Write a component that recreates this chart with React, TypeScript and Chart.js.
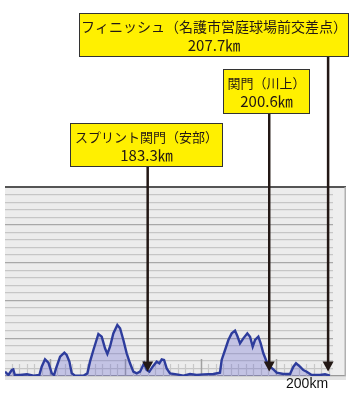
import React, { useEffect, useRef } from 'react';
import { Chart, registerables } from 'chart.js';

Chart.register(...registerables);

// Course profile: distance (km) and elevation (m)
const distanceKm = [
  164.1, 164.55, 165.0, 165.2, 165.4, 166.1, 167.0, 167.9, 168.65, 168.96,
  169.4, 169.85, 170.3, 170.6, 170.86, 171.4, 171.96, 172.27, 172.63, 172.94,
  173.38, 174.48, 175.01, 175.36, 175.81, 176.47, 176.91, 177.35, 177.66, 178.01,
  178.45, 178.98, 179.34, 179.78, 180.22, 180.66, 181.1, 181.55, 181.99, 182.52,
  182.87, 183.22, 183.66, 184.19, 184.55, 184.86, 185.17, 185.52, 185.96, 186.84,
  187.73, 188.61, 189.49, 190.38, 191.7, 192.58, 192.8, 193.25, 193.69, 194.13,
  194.57, 194.88, 195.23, 195.67, 196.2, 196.56, 196.91, 197.22, 197.66, 197.97,
  198.32, 198.76, 199.21, 199.65, 200.09, 200.97, 201.85, 202.3, 202.65, 203.18,
  203.62, 204.06, 204.72, 205.83, 206.49, 207.15,
];
const elevationM = [
  5.7, 1.3, 7.9, 8.8, 1.3, 1.3, 2.2, 0.4, 1.3, 12.3,
  22.0, 17.6, 3.5, 1.3, 10.1, 25.6, 30.9, 27.8, 19.0, 3.5,
  0.4, 0.4, 3.5, 19.0, 34.4, 55.6, 52.0, 36.6, 29.1, 38.8,
  56.4, 67.5, 63.1, 47.6, 30.0, 16.8, 5.7, 3.5, 5.7, 16.8,
  7.9, 5.7, 12.3, 19.0, 16.8, 22.0, 21.2, 10.1, 3.5, 2.2,
  0.4, 2.6, 1.3, 2.2, 2.6, 4.4, 21.2, 34.4, 47.6, 56.4,
  60.0, 52.9, 43.2, 49.8, 56.4, 52.0, 38.8, 47.6, 52.0, 43.2,
  30.0, 19.0, 12.3, 8.8, 4.4, 2.6, 2.6, 12.3, 16.8, 12.3,
  7.9, 5.7, 1.3, 1.3, 2.2, 0.4,
];

// Markers (arrow positions, labels as printed)
const markerKm = [183.0, 199.1, 206.9];
const markerTitles = ['スプリント関門（安部）', '関門（川上）', 'フィニッシュ（名護市営庭球場前交差点）'];
const markerDistances = ['183.3㎞', '200.6㎞', '207.7㎞'];

// Axis
const xMin = 164.1;
const xMax = 209.27;
const gridEndKm = 207.55;
const yMin = 0;
const yMax = 250;
const yStep = 10;
const yMajorStep = 50;
const axisLabelKm = 200;
const axisLabelText = '200km';

const CJK = '"Noto Sans CJK JP", "Noto Sans", sans-serif';
const INK = '#231815';

export default function App() {
  const ref = useRef<HTMLCanvasElement>(null);

  useEffect(() => {
    if (!ref.current) return;
    const boxes = [
      { x: 70, y: 123, w: 153, h: 44, size: 13 },
      { x: 223, y: 69, w: 87, h: 45, size: 13 },
      { x: 79, y: 13, w: 270, h: 44, size: 14 },
    ];

    const decor = {
      id: 'profileDecor',
      beforeDraw(chart: any) {
        const { ctx, chartArea: a } = chart;
        ctx.save();
        ctx.fillStyle = '#ececec';
        ctx.fillRect(a.left, a.top, a.right - a.left, a.bottom - a.top);
        ctx.fillStyle = '#e4e4e4';
        ctx.fillRect(a.left, a.bottom, a.right - a.left, 4);
        ctx.restore();
      },
      beforeDatasetsDraw(chart: any) {
        const { ctx, chartArea: a } = chart;
        const xs = chart.scales.x;
        ctx.save();
        // strip at right without grid
        const gx = xs.getPixelForValue(gridEndKm);
        ctx.fillStyle = '#eeeeee';
        ctx.fillRect(gx, a.top + 2, a.right - gx, a.bottom - a.top - 3);
        // right border
        ctx.strokeStyle = '#b0b0b0';
        ctx.lineWidth = 1.5;
        ctx.beginPath();
        ctx.moveTo(a.right - 0.75, a.top);
        ctx.lineTo(a.right - 0.75, a.bottom);
        ctx.stroke();
        // short km ticks at bottom
        for (let k = Math.ceil(xMin); k <= Math.floor(gridEndKm); k++) {
          const px = Math.round(xs.getPixelForValue(k)) + 0.5;
          const major = k % 10 === 0;
          ctx.strokeStyle = major ? '#a0a0a0' : '#c8c8c8';
          ctx.lineWidth = major ? 1.5 : 1.2;
          ctx.beginPath();
          ctx.moveTo(px, a.bottom);
          ctx.lineTo(px, a.bottom - (major ? 17 : 12));
          ctx.stroke();
        }
        ctx.restore();
      },
      afterDraw(chart: any) {
        const { ctx, chartArea: a } = chart;
        const xs = chart.scales.x;
        const ys = chart.scales.y;
        ctx.save();
        // axis label
        ctx.fillStyle = '#111';
        ctx.font = '14px "Liberation Sans", Arial, sans-serif';
        ctx.textAlign = 'left';
        ctx.textBaseline = 'middle';
        ctx.fillText(axisLabelText, xs.getPixelForValue(axisLabelKm) + 10, a.bottom + 8);

        // markers
        markerKm.forEach((km, i) => {
          const b = boxes[i];
          const px = xs.getPixelForValue(km);
          const tipY = ys.getPixelForValue(6);
          ctx.strokeStyle = INK;
          ctx.lineWidth = 2.5;
          ctx.beginPath();
          ctx.moveTo(px, b.y + b.h);
          ctx.lineTo(px, tipY - 8);
          ctx.stroke();
          ctx.fillStyle = INK;
          ctx.beginPath();
          ctx.moveTo(px - 5.5, tipY - 10);
          ctx.lineTo(px + 5.5, tipY - 10);
          ctx.lineTo(px, tipY);
          ctx.closePath();
          ctx.fill();

          ctx.fillStyle = '#fff000';
          ctx.fillRect(b.x, b.y, b.w, b.h);
          ctx.strokeStyle = '#333';
          ctx.lineWidth = 1;
          ctx.strokeRect(b.x + 0.5, b.y + 0.5, b.w - 1, b.h - 1);

          ctx.fillStyle = INK;
          ctx.textAlign = 'center';
          ctx.textBaseline = 'middle';
          ctx.font = `${b.size}px ${CJK}`;
          ctx.fillText(markerTitles[i], b.x + b.w / 2, b.y + 14, b.w - 4);
          ctx.font = `15px ${CJK}`;
          ctx.fillText(markerDistances[i], b.x + b.w / 2, b.y + 32);
        });
        ctx.restore();
      },
    };

    const chart = new Chart(ref.current, {
      type: 'line',
      data: {
        datasets: [
          {
            data: distanceKm.map((d, i) => ({ x: d, y: elevationM[i] })),
            borderColor: '#2d3c9c',
            borderWidth: 2.4,
            backgroundColor: 'rgba(100,100,210,0.3)',
            fill: 'origin',
            pointRadius: 0,
            tension: 0,
          },
        ],
      },
      options: {
        animation: false,
        responsive: true,
        maintainAspectRatio: false,
        layout: { padding: { top: 187, left: 5, right: 4, bottom: 18 } },
        plugins: { legend: { display: false }, tooltip: { enabled: false } },
        scales: {
          x: {
            type: 'linear',
            min: xMin,
            max: xMax,
            grid: { display: false, drawTicks: false },
            border: { display: false },
            ticks: { display: false, stepSize: 1 },
          },
          y: {
            min: yMin,
            max: yMax,
            grid: {
              drawTicks: false,
              color: (c: any) => {
                const v = c.tick.value;
                if (v === yMax) return '#555555';
                if (v === yMin) return '#999999';
                return v % yMajorStep === 0 ? '#a8a8a8' : '#c6c6c6';
              },
              lineWidth: (c: any) => (c.tick.value === yMax ? 2 : 1.2),
            },
            border: { display: false },
            ticks: { display: false, stepSize: yStep },
          },
        },
      },
      plugins: [decor],
    });
    return () => chart.destroy();
  }, []);

  return (
    <div style={{ position: 'absolute', left: 0, top: 0, width: 350, height: 394 }}>
      <canvas ref={ref} />
    </div>
  );
}
